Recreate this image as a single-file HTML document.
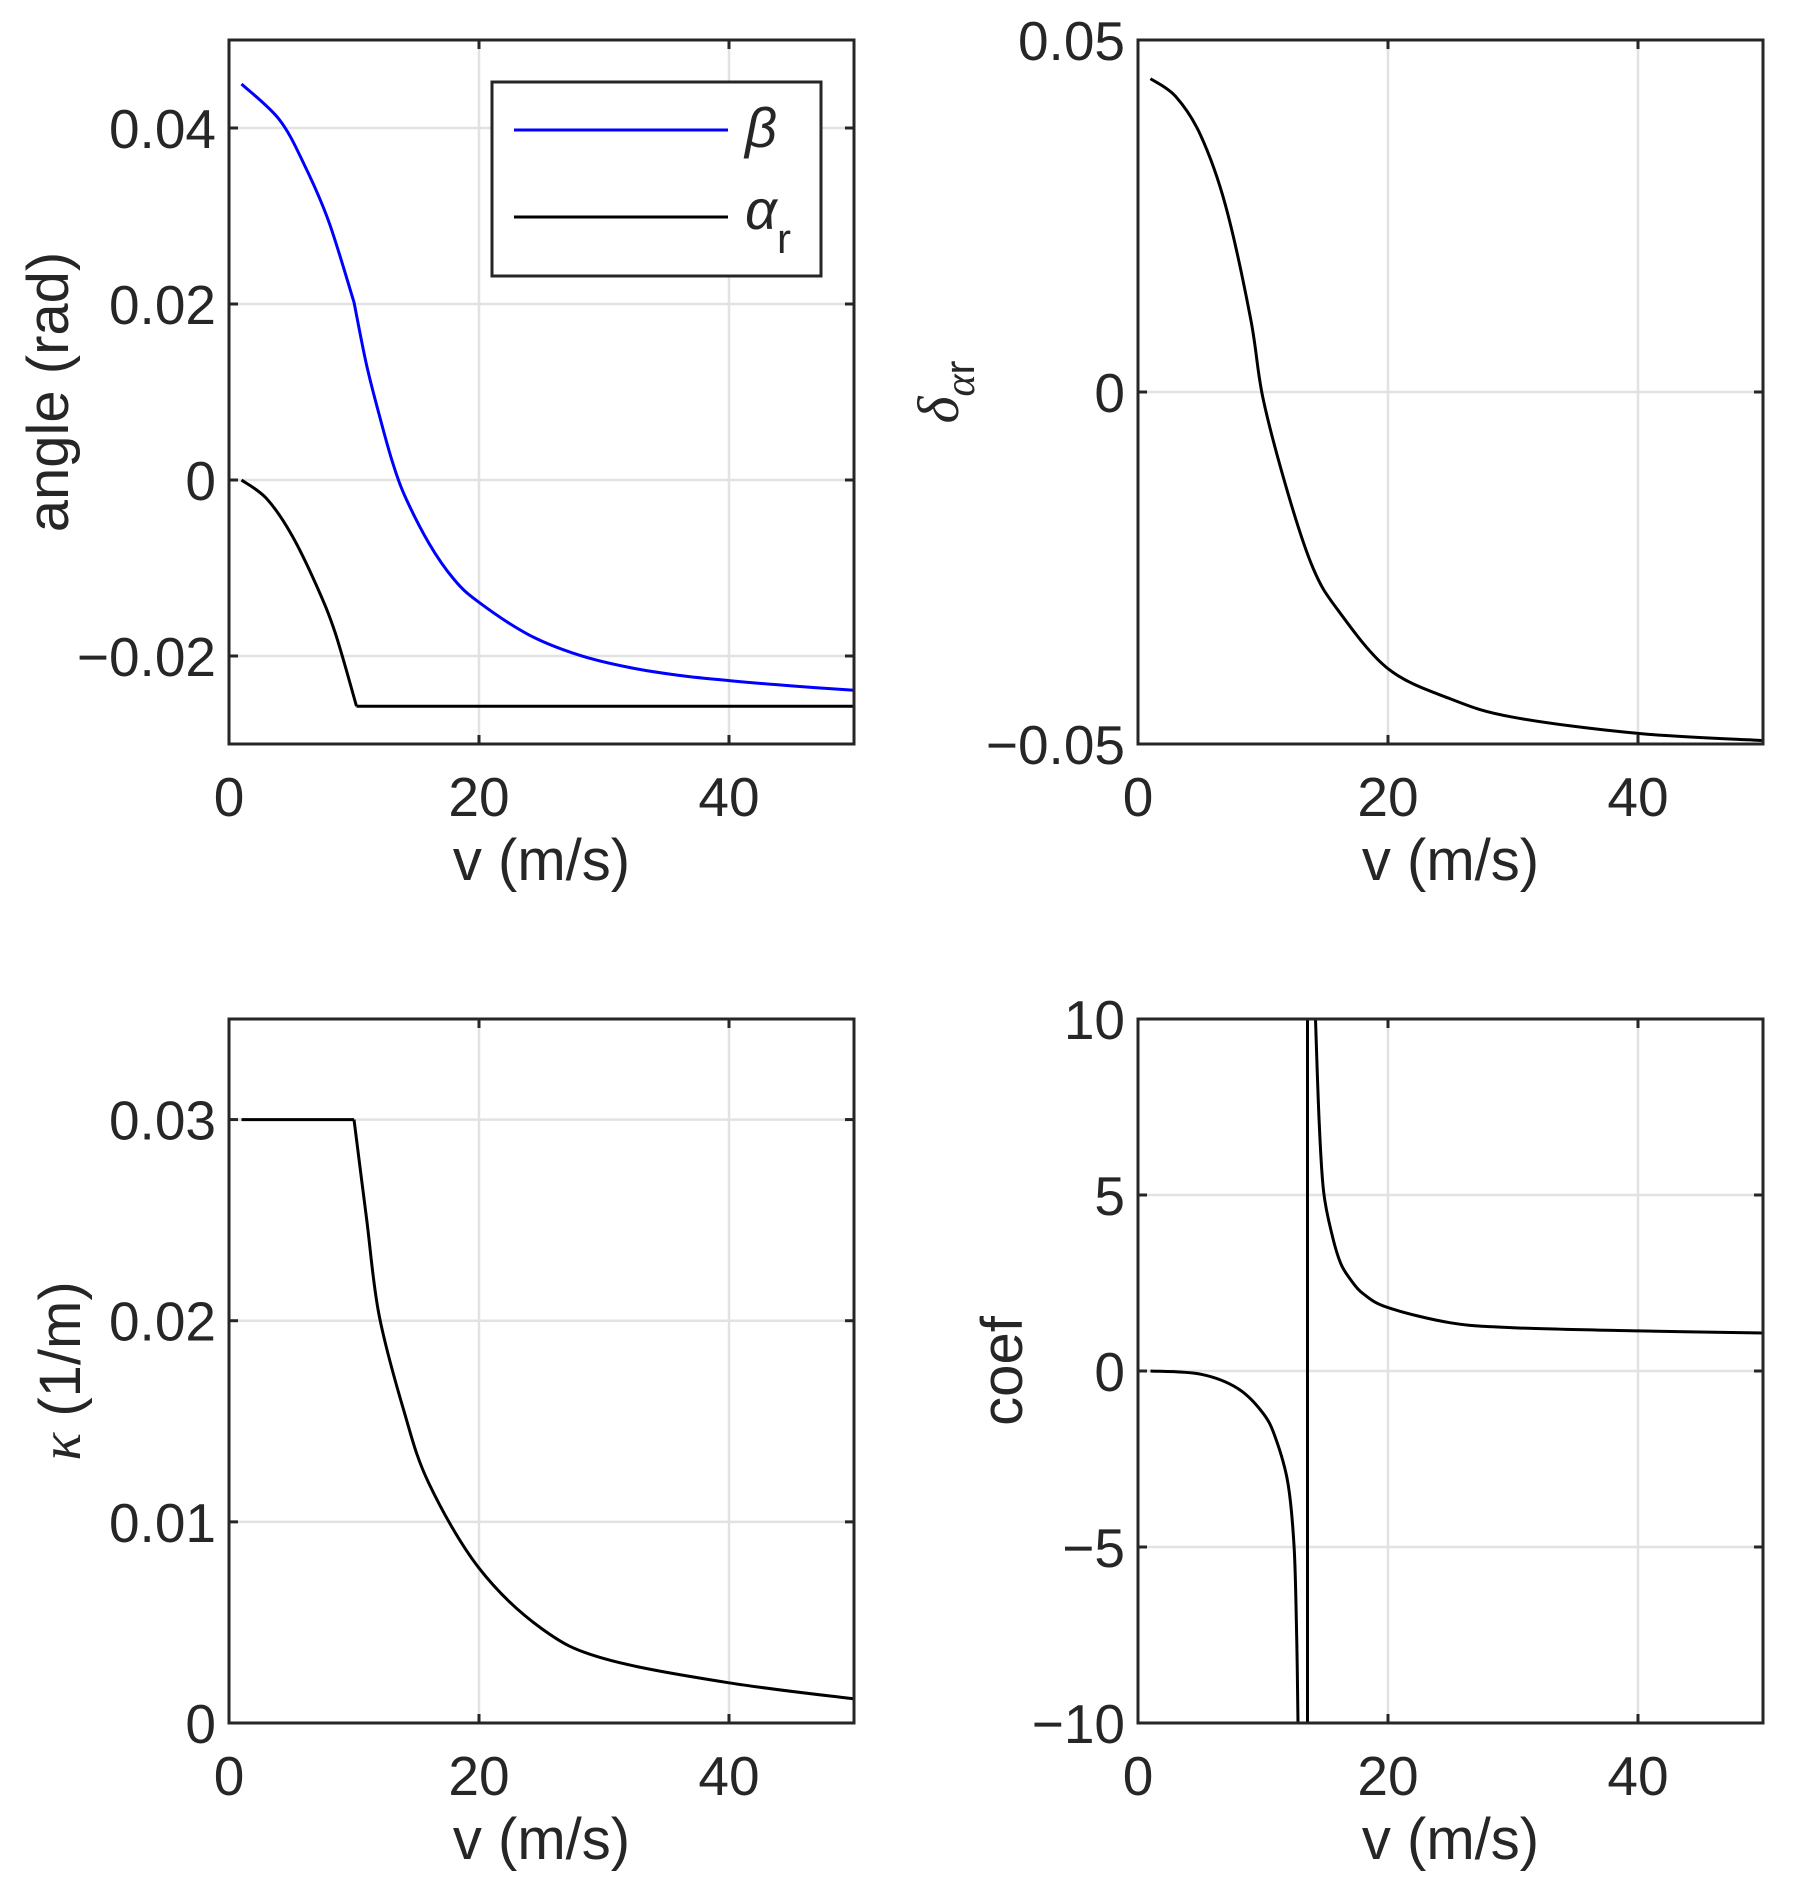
<!DOCTYPE html>
<html><head><meta charset="utf-8">
<style>
body{margin:0;background:#fff;}
svg text{font-family:"Liberation Sans",Arial,sans-serif;fill:#262626;}
</style></head>
<body>
<svg id="fig" width="1799" height="1892" viewBox="0 0 1799 1892" xmlns="http://www.w3.org/2000/svg"></svg>
<script>
const xTicks=[0,20,40];
const xTickLabels=["0","20","40"];
// panel 1
const betaV=[1,4,6,8,10,11,12,13,14,16,18,20,24,28,32,36,40,45,50];
const betaY=[0.0450,0.0410,0.0359,0.0293,0.0202,0.0131,0.0075,0.0024,-0.0016,-0.0072,-0.0113,-0.0139,-0.0176,-0.0199,-0.0213,-0.0222,-0.0228,-0.0234,-0.0239];
const alphaV=[1,3,5,7,8.5,10.2,50];
const alphaY=[0,-0.0021,-0.0062,-0.012,-0.0174,-0.0257,-0.0257];
const p1Ticks=[-0.02,0,0.02,0.04];
const p1TickLabels=["\u22120.02","0","0.02","0.04"];
// panel 2
const deltaV=[1,3,5,7,9,10,12,14,16,20,25,30,40,50];
const deltaY=[0.0445,0.042,0.0365,0.0265,0.0105,-0.0009,-0.0144,-0.025,-0.031,-0.0393,-0.0436,-0.0462,-0.0485,-0.0495];
const p2Ticks=[-0.05,0,0.05];
const p2TickLabels=["\u22120.05","0","0.05"];
// panel 3
const kappaV=[1,10,11,12,14,16,20,25,30,40,50];
const kappaY=[0.03,0.03,0.0251,0.0203,0.0155,0.0119,0.0077,0.0047,0.0032,0.002,0.0012];
const p3Ticks=[0,0.01,0.02,0.03];
const p3TickLabels=["0","0.01","0.02","0.03"];
// panel 4
const coefLeftV=[1,5,8,10,11,12,12.5,12.7,12.8];
const coefLeftY=[0,-0.09,-0.5,-1.2,-1.9,-3.2,-5.1,-7.7,-10];
const coefRightV=[14.2,14.5,14.85,15.5,16.2,17,18,20,25,30,40,50];
const coefRightY=[10,7,5.1,3.9,3.07,2.6,2.2,1.8,1.37,1.23,1.14,1.08];
const asymV=[13.56,13.56];
const asymY=[-10,10];
const p4Ticks=[-10,-5,0,5,10];
const p4TickLabels=["\u221210","\u22125","0","5","10"];

const NS="http://www.w3.org/2000/svg";
const svg=document.getElementById('fig');
function mk(tag,attrs,parent){const e=document.createElementNS(NS,tag);for(const k in attrs)e.setAttribute(k,attrs[k]);(parent||svg).appendChild(e);return e;}

function smoothPath(pts){
  let d='M'+pts[0][0].toFixed(1)+' '+pts[0][1].toFixed(1);
  for(let i=0;i<pts.length-1;i++){
    const p0=pts[Math.max(i-1,0)],p1=pts[i],p2=pts[i+1],p3=pts[Math.min(i+2,pts.length-1)];
    const t=1/6;
    const c1=[p1[0]+(p2[0]-p0[0])*t,p1[1]+(p2[1]-p0[1])*t];
    const c2=[p2[0]-(p3[0]-p1[0])*t,p2[1]-(p3[1]-p1[1])*t];
    d+=' C'+c1[0].toFixed(1)+' '+c1[1].toFixed(1)+' '+c2[0].toFixed(1)+' '+c2[1].toFixed(1)+' '+p2[0].toFixed(1)+' '+p2[1].toFixed(1);
  }
  return d;
}

function panel(name,L,T,R,B,ymin,ymax,yt,ytl,series,ylabel,ylx){
  const g=mk('g',{});
  
  
  const sx=v=>L+(v-0)/(50-0)*(R-L);
  const sy=v=>B-(v-ymin)/(ymax-ymin)*(B-T);
  xTicks.forEach((t,i)=>{if(t>0){const l=mk('line',{x1:sx(t),x2:sx(t),y1:T,y2:B,stroke:'#e2e2e2','stroke-width':2.5},g);
    
    }});
  yt.forEach(t=>{const l=mk('line',{x1:L,x2:R,y1:sy(t),y2:sy(t),stroke:'#e2e2e2','stroke-width':2.5},g);
    
    });
  series.forEach(s=>{
    const pts=s.v.map((v,i)=>[sx(v),sy(s.y[i])]);
    const breaks=s.k||[];
    let segs=[],start=0;
    breaks.forEach(b=>{segs.push(pts.slice(start,b+1));start=b;});
    segs.push(pts.slice(start));
    const d=segs.map(sg=>sg.length>2?smoothPath(sg):'M'+sg.map(p=>p[0].toFixed(1)+' '+p[1].toFixed(1)).join(' L')).join(' ');
    const p=mk('path',{d:d,fill:'none',stroke:s.c,'stroke-width':3,'stroke-linejoin':'round'},g);
    
    
  });
  xTicks.forEach((t,i)=>{
    mk('line',{x1:sx(t),x2:sx(t),y1:B,y2:B-9,stroke:'#262626','stroke-width':3},g);
    mk('line',{x1:sx(t),x2:sx(t),y1:T,y2:T+9,stroke:'#262626','stroke-width':3},g);
    const tx=mk('text',{x:sx(t),y:B+72,'font-size':55,'text-anchor':'middle'},g);
    tx.textContent=xTickLabels[i];
    
    
  });
  yt.forEach((t,i)=>{
    mk('line',{x1:L,x2:L+9,y1:sy(t),y2:sy(t),stroke:'#262626','stroke-width':3},g);
    mk('line',{x1:R,x2:R-9,y1:sy(t),y2:sy(t),stroke:'#262626','stroke-width':3},g);
    const tx=mk('text',{x:L-13,y:sy(t)+20,'font-size':55,'text-anchor':'end'},g);
    tx.textContent=ytl[i];
    
    
  });
  const box=mk('rect',{x:L,y:T,width:R-L,height:B-T,fill:'none',stroke:'#262626','stroke-width':3},g);
  
  
  const xl=mk('text',{x:(L+R)/2,y:B+136,'font-size':58,'text-anchor':'middle'},g);
  xl.textContent='v (m/s)';
  
  
  const yl=mk('text',{x:0,y:0,'font-size':58,'text-anchor':'middle',transform:`translate(${ylx},${(T+B)/2}) rotate(-90)`},g);
  yl.innerHTML=ylabel;
  
  
}

panel('panel-angle',229,40,854,744,-0.03,0.05,p1Ticks,p1TickLabels,
  [{v:betaV,y:betaY,c:'#0000ff',n:'beta-line',k:[4]},{v:alphaV,y:alphaY,c:'#000',n:'alpha-r-line',k:[5]}],
  'angle (rad)',68);
panel('panel-delta',1138,40,1763,744,-0.05,0.05,p2Ticks,p2TickLabels,
  [{v:deltaV,y:deltaY,c:'#000',n:'delta-alpha-r-line'}],
  '<tspan font-family="Liberation Serif" font-style="italic">δ</tspan><tspan font-size="42" dy="16" font-family="Liberation Serif" font-style="italic">α</tspan><tspan font-size="42">r</tspan>',958);
panel('panel-kappa',229,1019,854,1723,0,0.035,p3Ticks,p3TickLabels,
  [{v:kappaV,y:kappaY,c:'#000',n:'kappa-line',k:[1]}],
  '<tspan font-family="Liberation Serif" font-style="italic">κ</tspan> (1/m)',80);
panel('panel-coef',1138,1019,1763,1723,-10,10,p4Ticks,p4TickLabels,
  [{v:coefLeftV,y:coefLeftY,c:'#000',n:'coef-left-branch'},{v:coefRightV,y:coefRightY,c:'#000',n:'coef-right-branch'},{v:asymV,y:asymY,c:'#000',n:'coef-asymptote'}],
  'coef',1022);

const lg=mk('g',{});


mk('rect',{x:492,y:82,width:329,height:194,fill:'#fff',stroke:'#262626','stroke-width':3},lg);
mk('line',{x1:514,x2:728,y1:130,y2:130,stroke:'#0000ff','stroke-width':3},lg);
mk('line',{x1:514,x2:728,y1:217,y2:217,stroke:'#000','stroke-width':3},lg);
const t1=mk('text',{x:745,y:147,'font-size':56,'font-family':'Liberation Serif','font-style':'italic'},lg);
t1.textContent='β';


const t2=mk('text',{x:745,y:229,'font-size':56,'font-family':'Liberation Serif','font-style':'italic'},lg);
t2.innerHTML='α<tspan font-size="42" dy="24" font-family="Liberation Sans" font-style="normal">r</tspan>';


</script>
</body></html>
